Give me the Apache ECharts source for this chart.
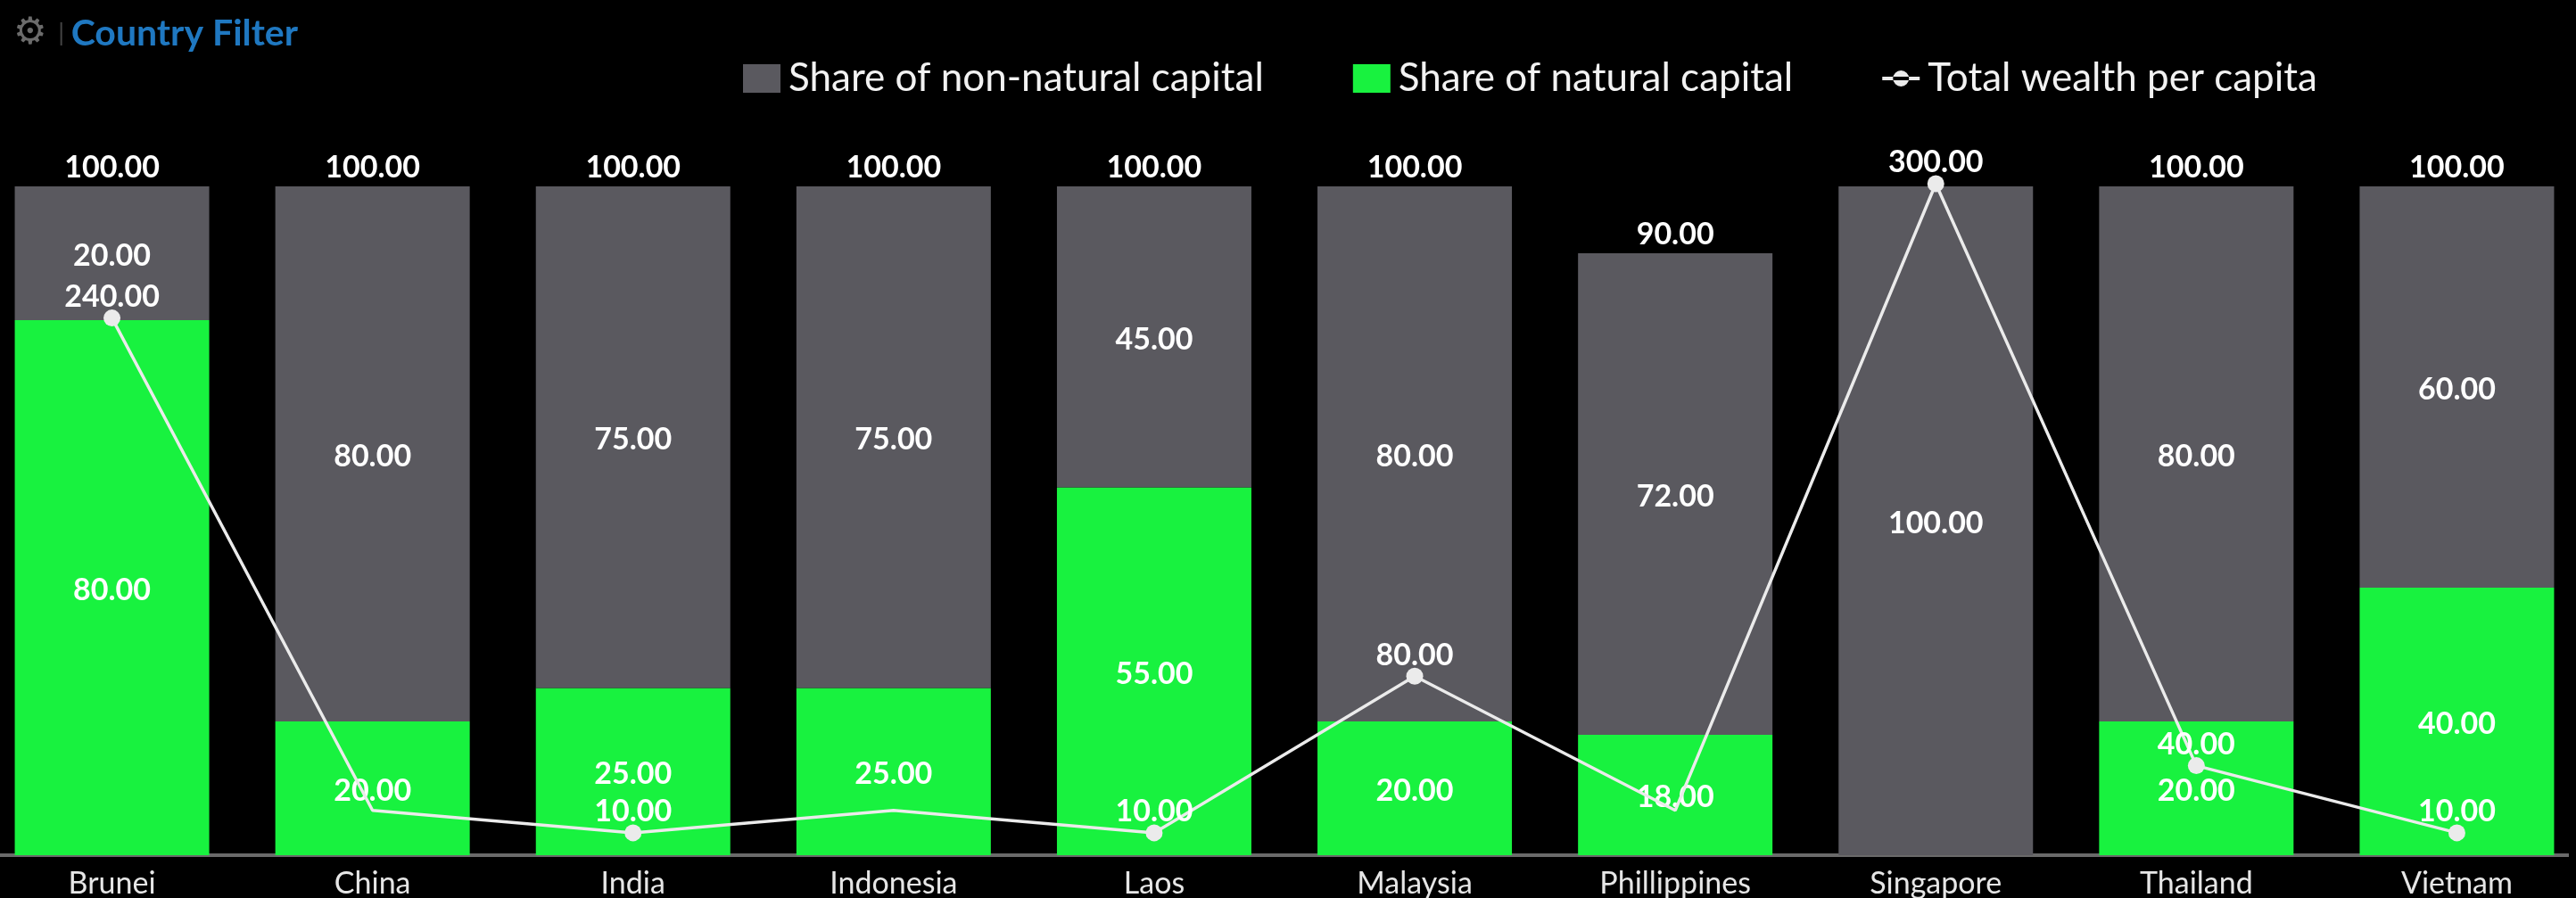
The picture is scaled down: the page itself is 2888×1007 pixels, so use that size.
<!DOCTYPE html>
<html>
<head>
<meta charset="utf-8">
<title>Country Filter</title>
<script src="https://cdn.jsdelivr.net/npm/echarts@6/dist/echarts.min.js"></script>
<style>
  html, body { margin: 0; padding: 0; background: #000; overflow: hidden; }
  #chart { width: 2880px; height: 1007px; }
</style>
</head>
<body>
<div id="chart"></div>
<script>
const countries = ['Brunei', 'China', 'India', 'Indonesia', 'Laos', 'Malaysia', 'Phillippines', 'Singapore', 'Thailand', 'Vietnam'];
const nonNatural = [20, 80, 75, 75, 45, 80, 72, 100, 80, 60];
const natural = [80, 20, 25, 25, 55, 20, 18, null, 20, 40];
const wealth = [240, 20, 10, 20, 10, 80, 20, 300, 40, 10];
// totals above the bars, Singapore has none because the 300.00 sits there
const totals = [100, 100, 100, 100, 100, 100, 90, null, 100, 100];
// these points show no dot and no label in the original
const hiddenPoints = ['China', 'Indonesia', 'Phillippines'];

const GREY = '#5a595f';
const GREEN = '#18f23f';
const LINE = '#ebebeb';
const FONT = 'Lato';

function fmt(params) {
  return Number(params.value).toFixed(2);
}

var myChart = echarts.init(document.getElementById('chart'));

var labelStyle = {
  show: true,
  color: '#fff',
  fontFamily: FONT,
  fontSize: 34,
  fontWeight: 'bold',
  formatter: fmt
};

var option = {
  backgroundColor: '#000',
  animation: false,
  title: {
    left: 10,
    top: 12,
    text: '{i|⚙}   {s|}  {t|Country Filter}',
    textStyle: {
      rich: {
        i: { color: '#6b6b6b', fontFamily: 'DejaVu Sans', fontSize: 42 },
        s: { width: 2, height: 26, backgroundColor: '#444' },
        t: { color: '#1f78c1', fontFamily: FONT, fontSize: 41, fontWeight: 'bold' }
      }
    }
  },
  legend: {
    left: 828,
    top: 61,
    itemWidth: 42,
    itemHeight: 32,
    itemGap: 100,
    data: [
      { name: 'Share of non-natural capital', icon: 'rect' },
      { name: 'Share of natural capital', icon: 'rect' },
      // thin line with a small dot, corners keep the box at full height
      { name: 'Total wealth per capita', icon: 'path://M0,0h0.01v0.01z M0,32h0.01v0.01z M42,0h0.01v0.01z M0,14h42v4h-42z M21,7a9,9 0 1,0 0.01,0z' }
    ],
    textStyle: { color: '#f2f2f2', fontFamily: FONT, fontSize: 44, padding: [0, 0, 0, 4] }
  },
  grid: { left: -20.5, top: 206, width: 2921, height: 753, outerBoundsMode: 'none' },
  xAxis: {
    type: 'category',
    data: countries,
    axisTick: { show: false },
    axisLine: { lineStyle: { color: '#6a6a6a', width: 4 } },
    axisLabel: { color: '#e6e6e6', fontFamily: FONT, fontSize: 34, margin: 15, interval: 0 }
  },
  yAxis: [
    { type: 'value', min: 0, max: 100.4, show: false },
    { type: 'value', min: 0, max: 300, show: false }
  ],
  series: [
    {
      name: 'Share of natural capital',
      type: 'bar',
      stack: 'share',
      barWidth: 218,
      itemStyle: { color: GREEN },
      label: Object.assign({}, labelStyle, { position: 'inside', offset: [0, 3] }),
      data: natural
    },
    {
      name: 'Share of non-natural capital',
      type: 'bar',
      stack: 'share',
      barWidth: 218,
      itemStyle: { color: GREY },
      label: Object.assign({}, labelStyle, { position: 'inside', offset: [0, 3] }),
      data: nonNatural
    },
    {
      name: 'Total',
      type: 'line',
      symbol: 'circle',
      symbolSize: 1,
      itemStyle: { color: 'rgba(0,0,0,0)' },
      lineStyle: { width: 0 },
      label: Object.assign({}, labelStyle, { position: 'top', distance: 3 }),
      data: totals
    },
    {
      name: 'Total wealth per capita',
      type: 'line',
      yAxisIndex: 1,
      symbol: 'circle',
      symbolSize: 19,
      z: 5,
      itemStyle: { color: LINE },
      lineStyle: { color: LINE, width: 3.5 },
      label: Object.assign({}, labelStyle, { position: 'top', distance: -3 }),
      data: wealth.map(function (v, i) {
        if (hiddenPoints.indexOf(countries[i]) >= 0) {
          return { value: v, symbol: 'none', label: { show: false } };
        }
        return v;
      })
    }
  ]
};

myChart.setOption(option);
</script>
</body>
</html>
